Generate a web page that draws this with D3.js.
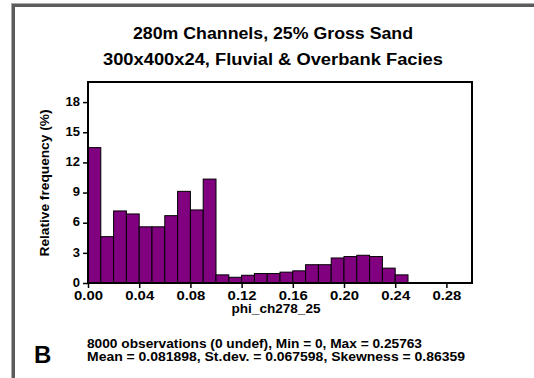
<!DOCTYPE html>
<html>
<head>
<meta charset="utf-8">
<script src="https://cdn.jsdelivr.net/npm/d3@7"></script>
<style>
  body { margin: 0; background: #fff; }
  svg { display: block; }
  text { font-family: "Liberation Sans", Arial, sans-serif; fill: #000; }
</style>
</head>
<body>
<svg id="chart" width="534" height="378"></svg>
<script>
// histogram of phi_ch278_25, bin width 0.01
const binStarts = d3.range(0, 0.25, 0.01);
const freqs = [13.47, 4.61, 7.17, 6.87, 5.59, 5.59, 6.70, 9.12, 7.27, 10.34,
               0.81, 0.57, 0.77, 0.94, 0.94, 1.08, 1.21, 1.82, 1.82, 2.49,
               2.63, 2.76, 2.63, 1.48, 0.81];
const xTicks = [0, 0.04, 0.08, 0.12, 0.16, 0.20, 0.24, 0.28];
const yTicks = [0, 3, 6, 9, 12, 15, 18];
const titleLines = ["280m Channels, 25% Gross Sand", "300x400x24, Fluvial & Overbank Facies"];
const statLines = ["8000 observations (0 undef), Min = 0, Max = 0.25763",
                   "Mean = 0.081898, St.dev. = 0.067598, Skewness = 0.86359"];

const svg = d3.select("#chart");
const plotL = 88, plotR = 472, plotT = 82, plotB = 283;
const smallFont = "'DejaVu Sans Condensed', 'DejaVu Sans', sans-serif";

const x = d3.scaleLinear().domain([0, 0.3]).range([plotL, plotR]);
const y = d3.scaleLinear().domain([0, 20]).range([plotB, plotT]);

// frame border (top and left only)
svg.append("rect").attr("x", 11).attr("y", 3).attr("width", 534).attr("height", 1).attr("fill", "#aaa");
svg.append("rect").attr("x", 11).attr("y", 4).attr("width", 534).attr("height", 3).attr("fill", "#5c5c5c");
svg.append("rect").attr("x", 11).attr("y", 3).attr("width", 1).attr("height", 378).attr("fill", "#aaa");
svg.append("rect").attr("x", 12).attr("y", 4).attr("width", 3).attr("height", 378).attr("fill", "#5c5c5c");

// title
svg.selectAll(".title").data(titleLines).enter().append("text")
    .attr("class", "title")
    .attr("x", 273)
    .attr("y", (d, i) => 39 + i * 26)
    .attr("text-anchor", "middle")
    .attr("font-size", 16)
    .attr("font-weight", "bold")
    .attr("textLength", (d, i) => i == 0 ? 280 : 340)
    .attr("lengthAdjust", "spacingAndGlyphs")
    .text(d => d);

// bars
const bw = 0.01;
svg.append("g").selectAll("rect").data(freqs).enter().append("rect")
    .attr("x", (d, i) => x(binStarts[i]))
    .attr("y", d => y(d))
    .attr("width", x(bw) - x(0))
    .attr("height", d => y(0) - y(d))
    .attr("fill", "#800080")
    .attr("stroke", "#000")
    .attr("stroke-width", 1);

// plot box
svg.append("rect")
    .attr("x", plotL).attr("y", plotT)
    .attr("width", plotR - plotL).attr("height", plotB - plotT)
    .attr("fill", "none").attr("stroke", "#000").attr("stroke-width", 2);

// axes
const xAxis = svg.append("g")
    .attr("transform", "translate(0," + plotB + ")")
    .call(d3.axisBottom(x).tickValues(xTicks).tickFormat(d3.format(".2f")).tickSizeInner(5).tickSizeOuter(0));
xAxis.select(".domain").remove();
xAxis.selectAll("line").attr("stroke-width", 1.5);
xAxis.selectAll("text").attr("font-size", 13).attr("font-weight", "bold")
    .attr("font-family", smallFont)
    .attr("y", 9).attr("dy", "0.62em").attr("textLength", 29).attr("lengthAdjust", "spacingAndGlyphs");

const yAxis = svg.append("g")
    .attr("transform", "translate(" + plotL + ",0)")
    .call(d3.axisLeft(y).tickValues(yTicks).tickSizeInner(5).tickSizeOuter(0));
yAxis.select(".domain").remove();
yAxis.selectAll("line").attr("stroke-width", 1.5);
yAxis.selectAll("text").attr("font-size", 13).attr("font-weight", "bold")
    .attr("font-family", smallFont)
    .attr("x", -8).attr("dy", "0.25em");

// axis labels
svg.append("text")
    .attr("transform", "translate(49,183) rotate(-90)")
    .attr("text-anchor", "middle")
    .attr("font-size", 12).attr("font-weight", "bold")
    .attr("font-family", smallFont)
    .attr("textLength", 147).attr("lengthAdjust", "spacingAndGlyphs")
    .text("Relative frequency (%)");

svg.append("text")
    .attr("x", 276).attr("y", 313)
    .attr("text-anchor", "middle")
    .attr("font-size", 12).attr("font-weight", "bold")
    .attr("font-family", smallFont)
    .attr("textLength", 89).attr("lengthAdjust", "spacingAndGlyphs")
    .text("phi_ch278_25");

// statistics
svg.selectAll(".stat").data(statLines).enter().append("text")
    .attr("class", "stat")
    .attr("x", 87)
    .attr("y", (d, i) => 348 + i * 13)
    .attr("font-size", 12).attr("font-weight", "bold")
    .attr("font-family", smallFont)
    .attr("textLength", (d, i) => i == 0 ? 335 : 378)
    .attr("lengthAdjust", "spacingAndGlyphs")
    .text(d => d);

svg.append("text")
    .attr("x", 34).attr("y", 363)
    .attr("font-size", 24).attr("font-weight", "bold")
    .text("B");
</script>
</body>
</html>
